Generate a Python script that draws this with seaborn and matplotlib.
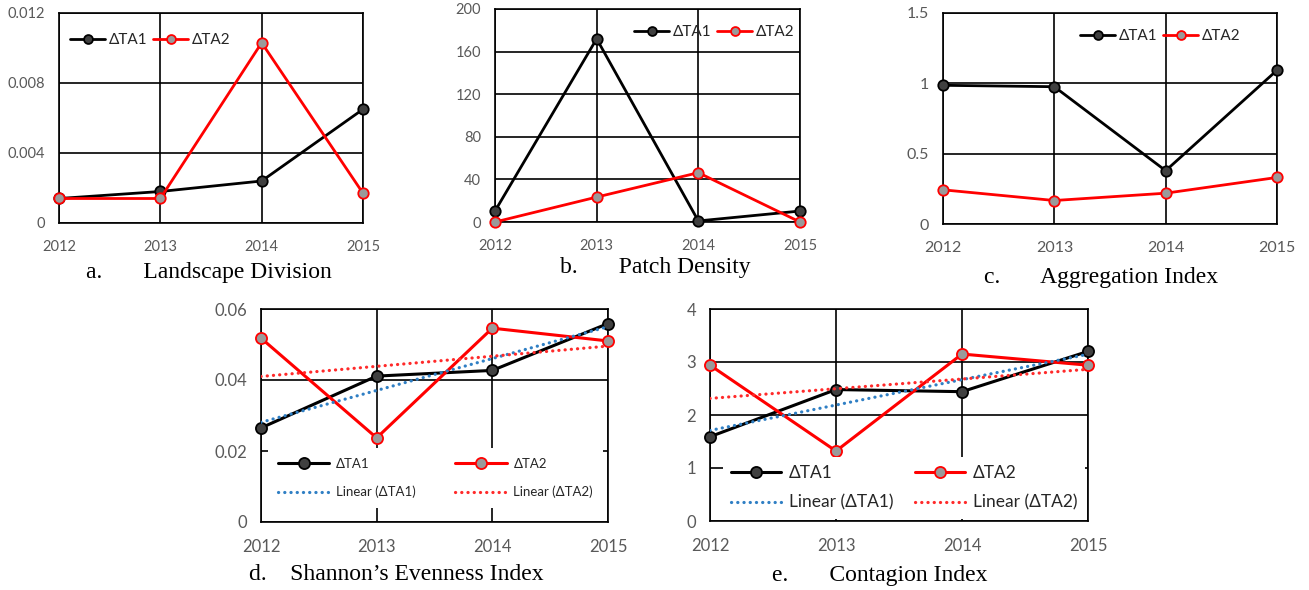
import matplotlib
matplotlib.use("Agg")
import matplotlib.pyplot as plt
import seaborn as sns

years = [2012, 2013, 2014, 2015]
year_labels = ['2012', '2013', '2014', '2015']

# a. Landscape Division
div_ta1 = [0.0014, 0.0018, 0.0024, 0.0065]
div_ta2 = [0.0014, 0.0014, 0.0103, 0.0017]
div_ticks = [0, 0.004, 0.008, 0.012]
div_labels = ['0', '0.004', '0.008', '0.012']

# b. Patch Density
pd_ta1 = [10.3, 172, 1.0, 10.3]
pd_ta2 = [0.0, 23.4, 46.3, 0.0]
pd_ticks = [0, 40, 80, 120, 160, 200]
pd_labels = ['0', '40', '80', '120', '160', '200']

# c. Aggregation Index
ai_ta1 = [0.986, 0.976, 0.379, 1.093]
ai_ta2 = [0.243, 0.167, 0.219, 0.331]
ai_ticks = [0, 0.5, 1, 1.5]
ai_labels = ['0', '0.5', '1', '1.5']

# d. Shannon's Evenness Index
shei_ta1 = [0.0265, 0.0411, 0.0427, 0.0559]
shei_ta2 = [0.0518, 0.0237, 0.0546, 0.0510]
shei_ticks = [0, 0.02, 0.04, 0.06]
shei_labels = ['0', '0.02', '0.04', '0.06']

# e. Contagion Index
cont_ta1 = [1.59, 2.48, 2.44, 3.20]
cont_ta2 = [2.94, 1.32, 3.15, 2.94]
cont_ticks = [0, 1, 2, 3, 4]
cont_labels = ['0', '1', '2', '3', '4']

sns.set_style("white")
plt.rcParams['font.family'] = ['Lato', 'DejaVu Sans']

W, H = 1309, 590
fig = plt.figure(figsize=(W / 100, H / 100), dpi=100)

DOTS = (0, (0.05, 1.9))


def px_rect(left, right, top, bottom):
    return [left / W, 1 - bottom / H, (right - left) / W, (bottom - top) / H]


def draw_panel(rect, ta1, ta2, yticks, ylabels, lw, ms, fs, xpad, trend=False):
    ax = fig.add_axes(rect)
    ax.set_axisbelow(True)

    sns.lineplot(x=years, y=ta1, ax=ax, color='black', linewidth=lw, marker='o', ms=ms,
                 markerfacecolor='#404040', markeredgecolor='black', mew=1.3,
                 label='ΔTA1', clip_on=False, zorder=4)
    sns.lineplot(x=years, y=ta2, ax=ax, color='#ff0000', linewidth=lw, marker='o', ms=ms,
                 markerfacecolor='#9a9a9a', markeredgecolor='#ff0000', mew=1.3,
                 label='ΔTA2', clip_on=False, zorder=4)

    if trend:
        # Excel-style linear trendlines
        sns.regplot(x=years, y=ta1, ax=ax, scatter=False, ci=None, truncate=True,
                    label='Linear (ΔTA1)',
                    line_kws=dict(color='#2f7fc4', linewidth=2.3, linestyle=DOTS,
                                  dash_capstyle='round', zorder=5))
        sns.regplot(x=years, y=ta2, ax=ax, scatter=False, ci=None, truncate=True,
                    label='Linear (ΔTA2)',
                    line_kws=dict(color='#ff2a2a', linewidth=2.3, linestyle=DOTS,
                                  dash_capstyle='round', zorder=5))

    ax.set_xlim(years[0], years[-1])
    ax.set_ylim(yticks[0], yticks[-1])
    ax.set_xticks(years)
    ax.set_xticklabels(year_labels)
    ax.set_yticks(yticks)
    ax.set_yticklabels(ylabels)
    ax.set_xlabel('')
    ax.set_ylabel('')
    ax.tick_params(axis='both', length=0, labelsize=fs, labelcolor='#595959')
    ax.tick_params(axis='x', pad=xpad)
    ax.tick_params(axis='y', pad=10)
    ax.grid(True, color='black', linewidth=1.2)
    for s in ax.spines.values():
        s.set_color('black')
        s.set_linewidth(1.2)
    return ax


def top_legend(ax, cx, cy):
    ax.legend(loc='center', bbox_to_anchor=(cx / W, 1 - cy / H), bbox_transform=fig.transFigure,
              ncol=2, frameon=False, fontsize=11, handlelength=2.3, handletextpad=0.2,
              columnspacing=0.4, markerscale=0.85, borderaxespad=0, borderpad=0)


def bottom_legend(ax, left, right, top, fs, hl, hp, ls, bp):
    handles, labels = ax.get_legend_handles_labels()
    order = [labels.index(n) for n in ['ΔTA1', 'Linear (ΔTA1)', 'ΔTA2', 'Linear (ΔTA2)']]
    leg = ax.legend([handles[i] for i in order], [labels[i] for i in order],
                    loc='upper center', mode='expand',
                    bbox_to_anchor=(left / W, 1 - top / H - 0.2, (right - left) / W, 0.2),
                    bbox_transform=fig.transFigure, ncol=2, fontsize=fs,
                    handlelength=hl, handletextpad=hp, labelspacing=ls, borderpad=bp,
                    borderaxespad=0, frameon=True, fancybox=False,
                    facecolor='white', edgecolor='none', framealpha=1)
    leg.set_zorder(10)


ax_a = draw_panel(px_rect(59, 363, 13, 223), div_ta1, div_ta2, div_ticks, div_labels, 2.0, 7.5, 10.5, 12)
top_legend(ax_a, 150, 40)
ax_b = draw_panel(px_rect(495, 800, 9, 222), pd_ta1, pd_ta2, pd_ticks, pd_labels, 2.0, 7.5, 10.5, 12)
top_legend(ax_b, 714, 32)
ax_c = draw_panel(px_rect(943, 1277, 13, 224), ai_ta1, ai_ta2, ai_ticks, ai_labels, 2.0, 7.5, 11.5, 12)
top_legend(ax_c, 1160, 36)

ax_d = draw_panel(px_rect(261, 608, 309, 522), shei_ta1, shei_ta2, shei_ticks, shei_labels,
                  2.2, 8, 12, 12, trend=True)
bottom_legend(ax_d, 268, 603, 448, 9.5, 3.9, 0.5, 1.2, 0.75)
ax_e = draw_panel(px_rect(710, 1088, 309, 521), cont_ta1, cont_ta2, cont_ticks, cont_labels,
                  2.2, 8, 12, 12, trend=True)
bottom_legend(ax_e, 723, 1085, 457, 12.5, 2.9, 0.45, 0.8, 0.45)

cap = dict(family=['Liberation Serif', 'DejaVu Serif'], fontsize=17, ha='center', va='center', color='black')
fig.text(209 / W, 1 - 272 / H, 'a.       Landscape Division', **cap)
fig.text(655 / W, 1 - 268 / H, 'b.       Patch Density', **cap)
fig.text(1101 / W, 1 - 278 / H, 'c.       Aggregation Index', **cap)
fig.text(396 / W, 1 - 575 / H, 'd.    Shannon\u2019s Evenness Index', **cap)
fig.text(880 / W, 1 - 575 / H, 'e.       Contagion Index', **cap)

fig.savefig('out.png', dpi=100)
